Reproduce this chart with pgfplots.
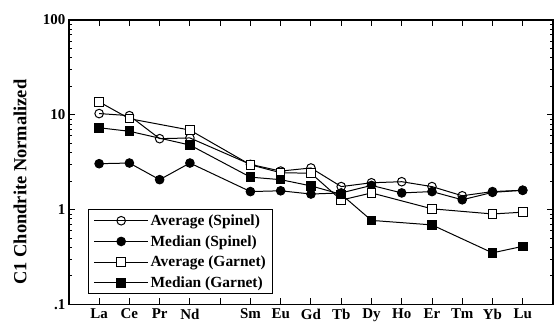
\documentclass[border=0pt]{standalone}
\usepackage{pgfplots}
\pgfplotsset{compat=1.18}
\usepackage{fontspec}
\setmainfont{Liberation Serif}
\begin{document}
\begin{tikzpicture}
\path[use as bounding box] (-69pt,-20pt) rectangle (486pt,305pt);
\begin{axis}[
  at={(0pt,0pt)}, anchor=south west,
  scale only axis,
  width=485pt, height=285pt,
  ymode=log,
  xmin=0, xmax=16,
  ymin=0.1, ymax=100,
  xtick={1,2,3,4,5,6,7,8,9,10,11,12,13,14,15},
  xticklabels={La,Ce,Pr,Nd,,Sm,Eu,Gd,Tb,Dy,Ho,Er,Tm,Yb,Lu},
  ytick={0.1,1,10,100},
  yticklabels={.1,1,10,100},
  /pgf/number format/assume math mode=true,
  tick label style={font=\fontsize{15}{15}\selectfont\bfseries},
  xticklabel style={yshift=-1pt},
  ylabel={C1 Chondrite Normalized},
  ylabel style={font=\fontsize{18.5}{18.5}\selectfont\bfseries, at={(rel axis cs:0,0.43)}, yshift=49pt, anchor=center},
  axis line style={line width=1.3pt},
  major tick length=6pt,
  minor tick length=3pt,
  every tick/.style={black, line width=0.9pt},
  legend style={at={(0.04,0.035)}, anchor=south west, draw=black, line width=1pt,
    font=\fontsize{15.5}{15.5}\selectfont\bfseries, row sep=4.5pt,
    inner xsep=5pt, inner ysep=3pt, cells={anchor=west},
    /tikz/every even column/.append style={column sep=8pt}},
  legend image code/.code={\draw[#1, mark repeat=2, mark phase=2] plot coordinates {(0pt,0pt) (27pt,0pt) (54pt,0pt)};},
  every axis plot/.append style={black, line width=1pt},
]
\addplot[mark=o, mark size=4.3pt, mark options={fill=white, line width=1pt}] coordinates {
(1,10.3) (2,9.8) (3,5.6) (4,5.7) (6,3.0) (7,2.55) (8,2.75) (9,1.75) (10,1.92) (11,1.97) (12,1.75) (13,1.40) (14,1.55) (15,1.6)};
\addlegendentry{Average (Spinel)}
\addplot[mark=*, mark size=4.3pt, mark options={fill=black}] coordinates {
(1,3.05) (2,3.1) (3,2.07) (4,3.1) (6,1.55) (7,1.58) (8,1.46) (9,1.5) (10,1.8) (11,1.5) (12,1.55) (13,1.27) (14,1.52) (15,1.6)};
\addlegendentry{Median (Spinel)}
\addplot[mark=square*, mark size=4.3pt, mark options={fill=white, line width=1pt}] coordinates {
(1,13.7) (2,9.1) (4,6.9) (6,2.97) (7,2.45) (8,2.42) (9,1.26) (10,1.5) (12,1.02) (14,0.9) (15,0.94)};
\addlegendentry{Average (Garnet)}
\addplot[mark=square*, mark size=4.3pt, mark options={fill=black}] coordinates {
(1,7.3) (2,6.7) (4,4.8) (6,2.2) (7,2.07) (8,1.78) (9,1.45) (10,0.77) (12,0.69) (14,0.35) (15,0.41)};
\addlegendentry{Median (Garnet)}
\end{axis}
\end{tikzpicture}
\end{document}
